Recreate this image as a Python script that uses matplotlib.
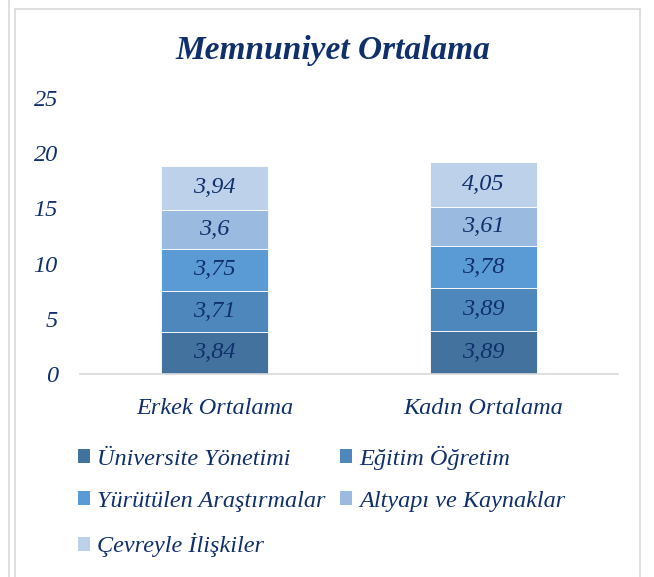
import matplotlib
matplotlib.use("Agg")
import matplotlib.pyplot as plt
from matplotlib.patches import Patch
from matplotlib.lines import Line2D

categories = ["Erkek Ortalama", "Kadın Ortalama"]
series_names = ["Üniversite Yönetimi", "Eğitim Öğretim", "Yürütülen Araştırmalar",
                "Altyapı ve Kaynaklar", "Çevreyle İlişkiler"]
universite = [3.84, 3.89]
egitim = [3.71, 3.89]
arastirma = [3.75, 3.78]
altyapi = [3.60, 3.61]
cevre = [3.94, 4.05]
label_texts = [["3,84", "3,89"], ["3,71", "3,89"], ["3,75", "3,78"],
               ["3,6", "3,61"], ["3,94", "4,05"]]
yticks = [0, 5, 10, 15, 20, 25]

colors = ["#44729E", "#4E87BB", "#5A9AD5", "#9BBADF", "#BED1EA"]
txt = "#10306C"
font = "Liberation Serif"
fs = 17.5

fig = plt.figure(figsize=(6.54, 5.77), dpi=100)
W, H = 654, 577
ax = fig.add_axes([80 / W, (H - 374) / H, (618 - 80) / W, (374 - 98) / H])

series = [universite, egitim, arastirma, altyapi, cevre]
x = list(range(len(categories)))
bottom = [0.0] * len(categories)
handles = []
for vals, name, col, labs in zip(series, series_names, colors, label_texts):
    ax.bar(x, vals, width=0.4, bottom=bottom, color=col,
           edgecolor="white", linewidth=0.6, label=name)
    for xi, v, b, lab in zip(x, vals, bottom, labs):
        ax.text(xi, b + v / 2, lab, ha="center", va="center", fontsize=fs,
                style="italic", color=txt, family=font)
    bottom = [b + v for b, v in zip(bottom, vals)]
    handles.append(Patch(facecolor=col, edgecolor="none", label=name))

ax.set_xlim(-0.5, 1.5)
ax.set_ylim(0, 25)
ax.set_yticks(yticks)
ax.set_yticklabels([str(t) for t in yticks], fontsize=fs, style="italic",
                   color=txt, family=font)
ax.set_xticks(x)
ax.set_xticklabels(categories, fontsize=fs, style="italic", color=txt, family=font)
ax.tick_params(axis="both", length=0)
ax.tick_params(axis="y", pad=16)
ax.tick_params(axis="x", pad=17)
for s in ["top", "right", "left"]:
    ax.spines[s].set_visible(False)
ax.spines["bottom"].set_color("#D9D9D9")
ax.spines["bottom"].set_linewidth(1.2)

fig.text(333 / W, 1 - 50 / H, "Memnuniyet Ortalama", ha="center", va="center",
         fontsize=24, weight="bold", style="italic", color=txt, family=font)

order = [0, 2, 4, 1, 3]
leg = fig.legend([handles[i] for i in order], [series_names[i] for i in order],
                 ncol=2, loc="upper left", bbox_to_anchor=(68 / W, 1 - 436 / H),
                 borderaxespad=0, frameon=False, handlelength=0.5, handleheight=0.5,
                 handletextpad=0.3, columnspacing=0.6, labelspacing=0.87,
                 prop={"family": font, "style": "italic", "size": fs})
for t in leg.get_texts():
    t.set_color(txt)

# chart frame lines
fig.add_artist(Line2D([15 / W, 15 / W], [0, 1 - 9 / H], transform=fig.transFigure,
                      color="#D9D9D9", lw=1.2))
fig.add_artist(Line2D([640 / W, 640 / W], [0, 1 - 9 / H], transform=fig.transFigure,
                      color="#D9D9D9", lw=1.2))
fig.add_artist(Line2D([15 / W, 640 / W], [1 - 9 / H, 1 - 9 / H], transform=fig.transFigure,
                      color="#D9D9D9", lw=1.2))
fig.add_artist(Line2D([9 / W, 9 / W], [0, 1], transform=fig.transFigure,
                      color="#D9D9D9", lw=1.2))

fig.savefig("out.png", dpi=100)
